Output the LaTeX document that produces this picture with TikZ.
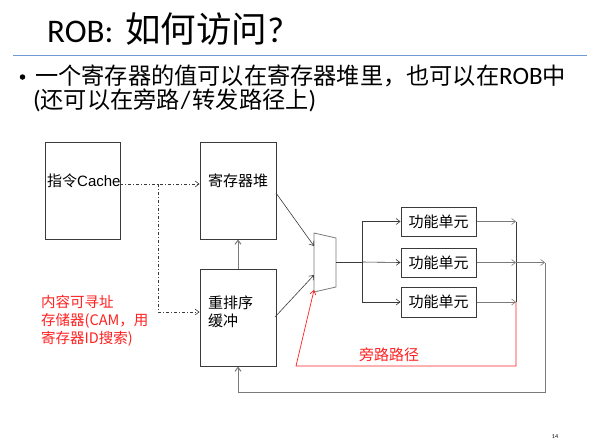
\documentclass[tikz,border=0pt]{standalone}
\usepackage{fontspec}
\setmainfont{Carlito}
\newfontfamily\cjk{Noto Sans CJK SC}
\newfontfamily\arialf{Liberation Sans}
\usetikzlibrary{arrows.meta}
\definecolor{lineblue}{HTML}{6F9BD2}
\definecolor{wire}{HTML}{3A3A3A}
\definecolor{wiregray}{HTML}{7A7A7A}
\definecolor{bypass}{HTML}{FF2020}
\newcommand{\zh}[1]{{\cjk\fontsize{23.2}{23.2}\selectfont #1}}
\begin{document}
\begin{tikzpicture}[x=1pt,y=-1pt,
  box/.style={draw=wire,line width=1pt,inner sep=0pt,anchor=center},
  fubox/.style={draw=wire,line width=1pt,inner sep=0pt,minimum width=75pt,minimum height=29pt,
    font=\cjk\fontsize{15}{15}\selectfont},
  wirel/.style={draw=wire,line width=0.6pt},
  graywire/.style={draw=wiregray,line width=1pt},
  tip/.style={-{Straight Barb[length=4pt,width=6pt]}},
  dashdot/.style={draw=wire,line width=0.6pt,dash pattern=on 3pt off 2pt on 1pt off 2pt},
  lbl/.style={inner sep=0pt,font=\cjk\fontsize{15}{15}\selectfont},
  bodyline/.style={anchor=base west,inner sep=0pt,text height=17pt,text depth=4pt,
    font=\fontsize{25}{25}\selectfont}]
\useasboundingbox (0,0) rectangle (601,444);

% title and rule
\node[anchor=base west,inner sep=0pt] (title) at (47,43)
  {\fontsize{33}{33}\selectfont ROB:\hspace{12pt}{\cjk\fontsize{35.5}{35.5}\selectfont 如何访问}{\fontsize{36}{36}\selectfont ?}};
\draw[lineblue,line width=1pt] (13,55) -- (587,55);

% bullet text
\node[circle,fill=black,inner sep=0pt,minimum size=5.5pt] (bullet) at (22.5,77) {};
\node[bodyline] (line1) at (35,84.5)
  {\zh{一个寄存器的值可以在寄存器堆里，也可以在}ROB\zh{中}};
\node[bodyline] (line2) at (33,108.5)
  {(\zh{还可以在旁路}\hspace{1pt}/\hspace{2pt}\zh{转发路径上})};

% storage boxes
\node[box,minimum width=75pt,minimum height=97pt] (icache) at (82.5,190.5) {};
\node[box,minimum width=76pt,minimum height=97pt] (rf) at (238,190.5) {};
\node[box,minimum width=76pt,minimum height=97pt] (rob) at (238,317.5) {};

\node[lbl,anchor=west] (icachetxt) at (47,181) {\cjk 指令{\arialf Cache}};
\node[lbl,anchor=center] (rftxt) at (238,181) {寄存器堆};
\node[lbl,anchor=north west,align=left] (robtxt) at (208,296) {重排序\\[3pt]缓冲};

% multiplexer
\draw[draw=wiregray,line width=0.8pt,fill=white] (314,233) -- (336,238) -- (336,287) -- (314,292) -- cycle;
\coordinate (muxa) at (314,246);
\coordinate (muxb) at (314,275);
\coordinate (muxc) at (314,290);
\coordinate (muxo) at (336,262);

% functional units
\node[fubox] (fu1) at (438.5,221.5) {功能单元};
\node[fubox] (fu2) at (438.5,262.5) {功能单元};
\node[fubox,minimum height=30pt] (fu3) at (438.5,302) {功能单元};

% fetch path (dash-dot)
\coordinate (fsrc) at (120,184);
\coordinate (fsplit) at (158,184);
\coordinate (frob) at (158,312);
\draw[dashdot,tip] (fsrc) -- (fsrc -| rf.west);
\draw[dashdot,tip] (fsplit) -- (frob) -- (frob -| rob.west);

% ROB commit to register file
\draw[graywire,tip] (rob.north) -- (rf.south);

% operand reads into the mux
\draw[wirel,tip] (276,193) -- (muxa);
\draw[wirel,tip] (275,317) -- (muxb);

% dispatch to the functional units
\coordinate (dsplit) at (362,262);
\coordinate (dtop) at (362,221.5);
\coordinate (dbot) at (362,302);
\draw[wirel] (muxo) -- (dsplit);
\draw[wirel] (dtop) -- (dbot);
\draw[wirel,tip] (dtop) -- (fu1.west);
\draw[wirel,tip] (dsplit) -- (fu2.west);
\draw[wirel,tip] (dbot) -- (fu3.west);

% results
\coordinate (r1) at (516,221.5);
\coordinate (r2) at (516,262.5);
\coordinate (r3) at (516,302);
\draw[wirel,draw=wiregray,tip] (fu1.east) -- (r1);
\draw[wirel,draw=wiregray,tip] (fu2.east) -- (r2);
\draw[wirel,draw=wiregray,tip] (fu3.east) -- (r3);
\draw[wirel] (r1) -- (r3);

% writeback to the ROB
\coordinate (wb) at (545,262.5);
\coordinate (wbdown) at (545,392);
\coordinate (wbleft) at (238,392);
\draw[wirel,draw=wiregray,tip] (r2) -- (wb);
\draw[graywire] (wb) -- (wbdown) -- (wbleft);
\draw[graywire,tip] (wbleft) -- (rob.south);

% bypass path
\coordinate (bp1) at (516,366);
\coordinate (bp2) at (296,366);
\draw[bypass,line width=0.7pt,tip] (r3) -- (bp1) -- (bp2) -- (muxc);
\node[lbl,text=bypass,anchor=center] (bplbl) at (389,355) {旁路路径};

% CAM note
\node[lbl,text=bypass,anchor=north west,align=left,font=\cjk\fontsize{14.5}{18}\selectfont] (cam) at (41,295)
  {内容可寻址\\存储器(CAM，用\\寄存器ID搜索)};

% page number
\node[inner sep=0pt,font=\fontsize{6}{6}\selectfont] (page) at (555,437) {14};
\end{tikzpicture}
\end{document}
